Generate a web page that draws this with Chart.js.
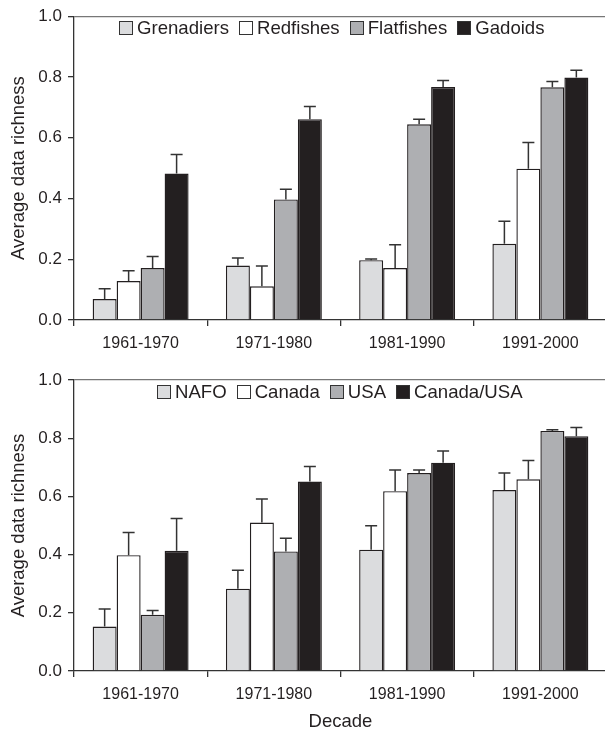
<!DOCTYPE html>
<html>
<head>
<meta charset="utf-8">
<script src="https://cdn.jsdelivr.net/npm/chart.js@4.4.0/dist/chart.umd.min.js"></script>
<style>
  html, body { margin: 0; padding: 0; background: #fff; overflow: hidden; width: 605px; height: 731px; }
  .panel { position: absolute; left: 0; width: 610px; }
  #top { top: 0; height: 355px; }
  #bottom { top: 360px; height: 371px; }
  .legend { position: absolute; display: flex; align-items: center; font: 18.6px "Liberation Sans", Arial, sans-serif; color: #231f20; white-space: nowrap; }
  .legend span.item { display: flex; align-items: center; margin-right: 10px; }
  .legend span.box { width: 12px; height: 12px; border: 1px solid #333; margin-right: 4px; }
</style>
</head>
<body>
<div class="panel" id="top"><canvas id="chart1"></canvas><div class="legend" id="legend1" style="left:119px; top:17px;"></div></div>
<div class="panel" id="bottom"><canvas id="chart2"></canvas><div class="legend" id="legend2" style="left:157px; top:21px;"></div></div>
<script>
const decades = ['1961-1970', '1971-1980', '1981-1990', '1991-2000'];
const yTicks = [0, 0.2, 0.4, 0.6, 0.8, 1.0];

// top panel - taxonomic groups
const groups = ['Grenadiers', 'Redfishes', 'Flatfishes', 'Gadoids'];
const grenadiers = [0.069, 0.179, 0.197, 0.251];
const grenadiersErr = [0.034, 0.025, 0.004, 0.074];
const redfishes = [0.128, 0.111, 0.171, 0.498];
const redfishesErr = [0.034, 0.067, 0.077, 0.086];
const flatfishes = [0.171, 0.397, 0.644, 0.766];
const flatfishesErr = [0.038, 0.033, 0.017, 0.019];
const gadoids = [0.482, 0.661, 0.767, 0.798];
const gadoidsErr = [0.063, 0.042, 0.021, 0.024];

// bottom panel - management
const agencies = ['NAFO', 'Canada', 'USA', 'Canada/USA'];
const nafo = [0.153, 0.283, 0.417, 0.622];
const nafoErr = [0.060, 0.063, 0.082, 0.058];
const canada = [0.398, 0.510, 0.618, 0.659];
const canadaErr = [0.078, 0.081, 0.073, 0.064];
const usa = [0.193, 0.411, 0.680, 0.825];
const usaErr = [0.015, 0.045, 0.011, 0.004];
const canUsa = [0.413, 0.651, 0.716, 0.807];
const canUsaErr = [0.111, 0.052, 0.040, 0.030];

const fills = ['#dbdcde', '#ffffff', '#aeafb2', '#231f20'];
const edge = '#231f20';
const fontFam = '"Liberation Sans", Arial, sans-serif';

// upper error bars with a cap
const errorBars = {
  id: 'errorBars',
  afterDatasetsDraw(chart) {
    const ctx = chart.ctx;
    const y = chart.scales.y;
    chart.data.datasets.forEach((ds, i) => {
      chart.getDatasetMeta(i).data.forEach((bar, j) => {
        const top = y.getPixelForValue(ds.data[j] + ds.errors[j]);
        ctx.save();
        ctx.strokeStyle = '#333';
        ctx.lineWidth = 1.5;
        ctx.beginPath();
        ctx.moveTo(bar.x, bar.y);
        ctx.lineTo(bar.x, top);
        ctx.moveTo(bar.x - 6, top);
        ctx.lineTo(bar.x + 6, top);
        ctx.stroke();
        ctx.restore();
      });
    });
  }
};

function makeChart(id, legendId, names, values, errs, padTop, xHeight, xTitle, xPad) {
  const datasets = names.map((n, i) => ({
    label: n,
    data: values[i],
    errors: errs[i],
    backgroundColor: fills[i],
    borderColor: edge,
    borderWidth: 1.4,
    barPercentage: 1.0,
    categoryPercentage: 0.72
  }));

  const legend = document.getElementById(legendId);
  datasets.forEach(ds => {
    const item = document.createElement('span');
    item.className = 'item';
    item.innerHTML = '<span class="box" style="background:' + ds.backgroundColor + '"></span>' + ds.label;
    legend.appendChild(item);
  });

  return new Chart(document.getElementById(id), {
    type: 'bar',
    data: { labels: decades, datasets: datasets },
    options: {
      responsive: true,
      maintainAspectRatio: false,
      animation: false,
      layout: { padding: { top: padTop, right: 3, left: 0, bottom: 0 } },
      plugins: { legend: { display: false }, tooltip: { enabled: false } },
      scales: {
        x: {
          offset: true,
          grid: { drawOnChartArea: false, offset: true, color: '#333', tickLength: 6, lineWidth: 1.3 },
          border: { color: '#333', width: 1.3 },
          ticks: { color: '#231f20', font: { family: fontFam, size: 16 }, padding: xPad, maxRotation: 0 },
          title: { display: !!xTitle, text: xTitle, color: '#231f20', font: { family: fontFam, size: 18.5 }, padding: { top: 0, bottom: -2 } },
          afterFit(scale) { scale.height = xHeight; }
        },
        y: {
          min: 0,
          max: 1,
          afterBuildTicks(scale) { scale.ticks = yTicks.map(v => ({ value: v })); },
          grid: {
            drawOnChartArea: true,
            color: c => (c.tick && c.tick.value === 1) ? '#777' : 'rgba(0,0,0,0)',
            tickColor: '#333',
            tickLength: 6,
            lineWidth: 1.3
          },
          border: { color: '#333', width: 1.3 },
          ticks: { color: '#231f20', font: { family: fontFam, size: 17 }, padding: 6, callback: v => v.toFixed(1) },
          title: { display: true, text: 'Average data richness', color: '#231f20', font: { family: fontFam, size: 18.5 }, padding: { top: 8, bottom: 0 } },
          afterFit(scale) { scale.width = 74; }
        }
      }
    },
    plugins: [errorBars]
  });
}

makeChart('chart1', 'legend1', groups,
  [grenadiers, redfishes, flatfishes, gadoids],
  [grenadiersErr, redfishesErr, flatfishesErr, gadoidsErr],
  15, 35, '', 8);

makeChart('chart2', 'legend2', agencies,
  [nafo, canada, usa, canUsa],
  [nafoErr, canadaErr, usaErr, canUsaErr],
  20, 60, 'Decade', 8);
</script>
</body>
</html>
